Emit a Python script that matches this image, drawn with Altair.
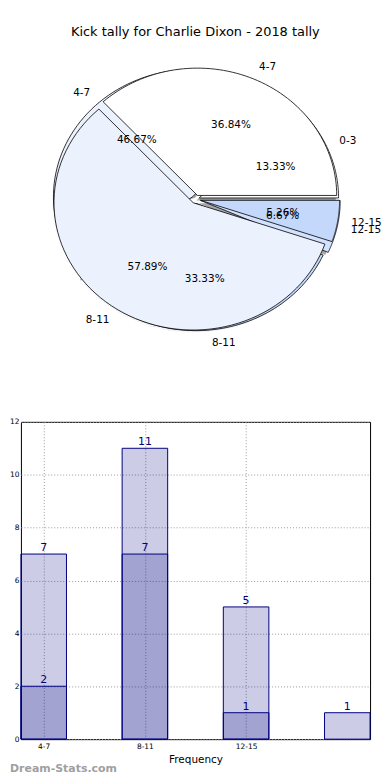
import json
import altair as alt
import pandas as pd

# ---------------- data ----------------
title_text = "Kick tally for Charlie Dixon - 2018 tally"

pie1_labels = ["4-7", "8-11", "12-15"]
pie1_values = [7, 11, 1]
pie1_explode = [0.035, 0.03, 0.035]
pie1_colors = ["#FFFFFF", "#EBF1FD", "#C4D8FC"]

pie2_labels = ["0-3", "4-7", "8-11", "12-15"]
pie2_values = [2, 7, 5, 1]
pie2_explode = [0.03, 0.03, 0.03, 0.04]
pie2_colors = ["#FFFFFF", "#EBF1FD", "#C4D8FC", "#D2E2FE"]

bar_positions = [0, 1, 2, 3]
bar_light_values = [7, 11, 5, 1]
bar_dark_values = [2, 7, 1]
x_tick_labels = ["4-7", "8-11", "12-15"]
y_ticks = [0, 2, 4, 6, 8, 10, 12]
x_title = "Frequency"
watermark = "Dream-Stats.com"

# ---------------- layout constants ----------------
FONT = "DejaVu Sans"
W = 351          # plot width of both panels
PIE_H = 370
BAR_H = 319
RX, RY = 140.0, 128.0   # px per pie radius unit
CXP, CYP = 175.5, 157.5  # pie center inside panel
NSEG = 72

xs = alt.Scale(domain=[-CXP / RX, (W - CXP) / RX], nice=False, zero=False)
ys = alt.Scale(domain=[-(PIE_H - CYP) / RY, CYP / RY], nice=False, zero=False)


def pie_df(pie, labels, values, explode, colors):
    return pd.DataFrame({
        "pie": pie, "slice": labels, "value": values,
        "explode": explode, "color": colors, "idx": list(range(len(labels))),
    })


pies = pd.concat([
    pie_df(2, pie2_labels, pie2_values, pie2_explode, pie2_colors),
    pie_df(1, pie1_labels, pie1_values, pie1_explode, pie1_colors),
], ignore_index=True)

base = (
    alt.Chart(pies)
    .transform_joinaggregate(total="sum(value)", groupby=["pie"])
    .transform_window(cum="sum(value)", sort=[alt.SortField("idx")],
                      groupby=["pie"], frame=[None, 0])
    .transform_calculate(a0="2*PI*(datum.cum - datum.value)/datum.total")
    .transform_calculate(a1="2*PI*datum.cum/datum.total")
    .transform_calculate(mid="(datum.a0 + datum.a1)/2")
    .transform_calculate(ox="datum.explode*cos(datum.mid)")
    .transform_calculate(oy="datum.explode*sin(datum.mid)")
)

poly = (
    base.transform_calculate(pts=f"sequence(0, {NSEG + 3})")
    .transform_flatten(["pts"], as_=["k"])
    .transform_calculate(t=f"clamp((datum.k - 1)/{NSEG}, 0, 1)")
    .transform_calculate(ang="datum.a0 + (datum.a1 - datum.a0)*datum.t")
    .transform_calculate(edge=f"(datum.k > 0 && datum.k < {NSEG + 2}) ? 1 : 0")
    .transform_calculate(px="datum.ox + datum.edge*cos(datum.ang)")
    .transform_calculate(py="datum.oy + datum.edge*sin(datum.ang)")
)

shadow = poly.transform_calculate(
    sx="datum.px - 0.02", sy="datum.py - 0.02"
).mark_line(filled=True, strokeWidth=0, fillOpacity=0.5).encode(
    x=alt.X("sx:Q", scale=xs, axis=None),
    y=alt.Y("sy:Q", scale=ys, axis=None),
    order="k:Q",
    detail="slice:N",
    color=alt.value("#4d4d4d"),
)


def wedges(pie_id):
    return poly.transform_filter(f"datum.pie == {pie_id}").mark_line(
        filled=True, stroke="black", strokeWidth=0.8
    ).encode(
        x=alt.X("px:Q", scale=xs, axis=None),
        y=alt.Y("py:Q", scale=ys, axis=None),
        order="k:Q",
        detail="slice:N",
        color=alt.Color("color:N", scale=None),
    )


labels = base.transform_calculate(
    lx="datum.ox + 1.1*cos(datum.mid)"
).transform_calculate(
    ly="datum.oy + 1.1*sin(datum.mid)"
).transform_calculate(
    qx="datum.ox + 0.6*cos(datum.mid)"
).transform_calculate(
    qy="datum.oy + 0.6*sin(datum.mid)"
).transform_calculate(
    pct="format(100*datum.value/datum.total, '.2f') + '%'"
)

lab_right = labels.transform_filter("datum.lx > 0").mark_text(
    align="left", baseline="middle", font=FONT, fontSize=10.5, color="black"
).encode(x=alt.X("lx:Q", scale=xs, axis=None), y=alt.Y("ly:Q", scale=ys, axis=None), text="slice:N")

lab_left = labels.transform_filter("datum.lx <= 0").mark_text(
    align="right", baseline="middle", font=FONT, fontSize=10.5, color="black"
).encode(x=alt.X("lx:Q", scale=xs, axis=None), y=alt.Y("ly:Q", scale=ys, axis=None), text="slice:N")

pct_text = labels.mark_text(
    align="center", baseline="middle", font=FONT, fontSize=10.5, color="black"
).encode(x=alt.X("qx:Q", scale=xs, axis=None), y=alt.Y("qy:Q", scale=ys, axis=None), text="pct:N")

pie_chart = alt.layer(shadow, wedges(2), wedges(1), lab_right, lab_left, pct_text).properties(
    width=W, height=PIE_H,
    view=alt.ViewBackground(stroke="transparent", strokeWidth=0),
)

# ---------------- bar chart ----------------
bars = pd.concat([
    pd.DataFrame({"pos": bar_positions, "value": bar_light_values, "series": "a"}),
    pd.DataFrame({"pos": bar_positions[:len(bar_dark_values)], "value": bar_dark_values, "series": "b"}),
], ignore_index=True)

label_expr = json.dumps(x_tick_labels) + "[datum.value]"

xb = alt.Scale(domain=[-0.225, 3.225], nice=False, zero=False)
yb = alt.Scale(domain=[0, 12], nice=False, zero=False)

bar_base = alt.Chart(bars).transform_calculate(
    x0="datum.pos - 0.225", x1="datum.pos + 0.225"
)

bar_marks = bar_base.mark_bar(
    fill="#000080", fillOpacity=0.2, stroke="#000080", strokeWidth=1
).encode(
    x=alt.X("x0:Q", scale=xb, axis=alt.Axis(
        values=[0, 1, 2], labelExpr=label_expr, title=x_title, grid=True,
        gridColor="#9a9a9a", gridDash=[1, 2], gridWidth=1,
        domain=False, ticks=False, labelFont=FONT, labelFontSize=7.5,
        labelColor="black", labelPadding=3, titleFont=FONT, titleFontSize=10.5,
        titleFontWeight="normal", titleColor="black", titlePadding=5,
    )),
    x2="x1:Q",
    y=alt.Y("value:Q", scale=yb, axis=alt.Axis(
        values=y_ticks, title=None, grid=True, gridColor="#9a9a9a",
        gridDash=[1, 2], gridWidth=1, domain=False, ticks=False,
        labelFont=FONT, labelFontSize=7.5, labelColor="black", labelPadding=2,
    )),
    y2=alt.datum(0),
)

bar_text = alt.Chart(bars).mark_text(
    baseline="bottom", dy=-1, font=FONT, fontSize=11, color="#000080"
).encode(
    x=alt.X("pos:Q", scale=xb),
    y=alt.Y("value:Q", scale=yb),
    text="value:Q",
)

wm = alt.Chart(pd.DataFrame({"t": [watermark]})).mark_text(
    align="left", baseline="middle", font=FONT, fontSize=11, fontWeight="bold",
    color="#a0a0a0"
).encode(x=alt.value(-11), y=alt.value(BAR_H + 30), text="t:N")

bar_chart = alt.layer(bar_marks, bar_text, wm).properties(
    width=W, height=BAR_H,
    view=alt.ViewBackground(stroke="black", strokeWidth=1),
)

chart = alt.vconcat(
    pie_chart, bar_chart, spacing=6,
    title=alt.TitleParams(title_text, font=FONT, fontSize=13, fontWeight="normal",
                          color="black", anchor="middle", offset=4),
).properties(
    padding={"left": 0, "top": 16, "right": 0, "bottom": 0},
).configure(font=FONT)

chart.save("out.html", embed_options={"renderer": "svg", "actions": False})
